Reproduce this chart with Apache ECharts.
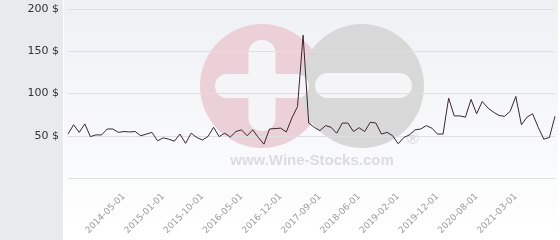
<!DOCTYPE html>
<html><head><meta charset="utf-8">
<script src="https://cdn.jsdelivr.net/npm/echarts@6/dist/echarts.min.js"></script>
<style>html,body{margin:0;padding:0;background:#fff}#c{width:560px;height:240px}</style>
</head><body><div id="c"></div>
<script>
const categories = [
 '2013-07-01','2013-08-01','2013-09-01','2013-10-01','2013-11-01','2013-12-01','2014-01-01','2014-02-01','2014-03-01','2014-04-01',
 '2014-05-01','2014-06-01','2014-07-01','2014-08-01','2014-09-01','2014-10-01','2014-12-01','2015-01-01','2015-02-01','2015-03-01',
 '2015-05-01','2015-06-01','2015-07-01','2015-09-01','2015-10-01','2015-11-01','2015-12-01','2016-01-01','2016-02-01','2016-03-01',
 '2016-04-01','2016-05-01','2016-06-01','2016-07-01','2016-08-01','2016-09-01','2016-10-01','2016-11-01','2016-12-01','2017-01-01',
 '2017-02-01','2017-03-01','2017-05-01','2017-06-01','2017-08-01','2017-09-01','2017-10-01','2017-11-01','2018-01-01','2018-02-01',
 '2018-03-01','2018-05-01','2018-06-01','2018-07-01','2018-08-01','2018-09-01','2018-10-01','2018-11-01','2019-01-01','2019-02-01',
 '2019-03-01','2019-05-01','2019-06-01','2019-08-01','2019-09-01','2019-11-01','2019-12-01','2020-01-01','2020-02-01','2020-03-01',
 '2020-04-01','2020-05-01','2020-07-01','2020-08-01','2020-09-01','2020-10-01','2020-11-01','2020-12-01','2021-01-01','2021-02-01',
 '2021-03-01','2021-04-01','2021-05-01','2021-06-01','2021-07-01','2021-08-01','2021-09-01','2021-10-01'
];
const prices = [
 52, 63, 54, 64, 49, 51, 51, 58, 58, 54,
 55, 54.5, 55, 50, 52, 54, 44, 47.5, 46, 43.5,
 52, 41, 53, 48, 45, 49, 60, 49, 53, 48.5,
 55, 57, 50, 57, 48, 40, 58, 58.5, 59, 54.5,
 71, 84.5, 169, 65, 60, 56, 62, 60, 53, 65,
 65, 55, 59.5, 55, 66, 65, 52, 54, 50, 40.5,
 48, 51, 57, 58, 62, 59, 52, 52, 94.5, 73.5,
 73.5, 72, 93, 76, 90.5, 83, 78, 74, 73, 79,
 96.5, 63, 72, 76, 60, 46, 48, 73
];
const xTickLabels = ['2014-05-01','2015-01-01','2015-10-01','2016-05-01','2016-12-01','2017-09-01','2018-06-01','2019-02-01','2019-12-01','2020-08-01','2021-03-01'];
const yTicks = [0, 50, 100, 150, 200];
const currency = '$';

const chart = echarts.init(document.getElementById('c'), null, {renderer: 'canvas'});
chart.setOption({
  animation: false,
  backgroundColor: '#ffffff',
  grid: {left: 68, right: 5, top: 9, bottom: 62, containLabel: false, outerBoundsMode: 'none'},
  graphic: {
    elements: [
      {type: 'rect', z: -20, silent: true, shape: {x: 0, y: 0, width: 63, height: 240}, style: {fill: '#e7ebee'}},
      {type: 'rect', z: -20, silent: true, shape: {x: 64, y: 0, width: 494, height: 240},
        style: {fill: new echarts.graphic.LinearGradient(0, 0, 0, 1, [{offset: 0, color: '#eff0f4'}, {offset: 1, color: '#ffffff'}])}},
      {type: 'circle', z: -19, silent: true, shape: {cx: 262, cy: 86, r: 62}, style: {fill: '#ecd0d7'}},
      {type: 'circle', z: -18, silent: true, shape: {cx: 362, cy: 86, r: 62}, style: {fill: '#d8d8d9'}},
      {type: 'rect', z: -17, silent: true, shape: {x: 248.5, y: 40, width: 27, height: 91, r: 13}, style: {fill: '#f5f5f8'}},
      {type: 'rect', z: -17, silent: true, shape: {x: 215, y: 74, width: 94, height: 24, r: 12}, style: {fill: '#f5f5f8'}},
      {type: 'rect', z: -17, silent: true, shape: {x: 315, y: 73, width: 97, height: 25, r: 12.5}, style: {fill: '#f5f5f8'}},
      {type: 'text', z: -16, silent: true, style: {x: 312, y: 160.5, text: 'www.Wine-Stocks.com', font: 'bold 15px "Liberation Sans", Arial, sans-serif', fill: '#dcdcde', textAlign: 'center', textVerticalAlign: 'middle'}},
      {type: 'text', z: -16, silent: true, style: {x: 413, y: 140, text: '®', font: '16px "Liberation Sans", Arial, sans-serif', fill: '#d6d6d8', textAlign: 'center', textVerticalAlign: 'middle'}}
    ]
  },
  xAxis: {
    type: 'category',
    data: categories,
    boundaryGap: false,
    axisLine: {show: false},
    axisTick: {show: false},
    splitLine: {show: false},
    axisLabel: {
      rotate: 45,
      interval: (i, v) => xTickLabels.includes(v),
      fontSize: 9,
      fontFamily: 'DejaVu Sans',
      color: '#9a9a9a',
      margin: 17
    }
  },
  yAxis: {
    type: 'value',
    min: yTicks[0],
    max: yTicks[yTicks.length - 1],
    interval: yTicks[1] - yTicks[0],
    axisLine: {show: false},
    axisTick: {show: false},
    splitLine: {show: true, lineStyle: {color: '#dedfe1', width: 1}},
    axisLabel: {
      formatter: v => (v === 0 ? '' : v + ' ' + currency),
      fontSize: 11,
      fontFamily: 'DejaVu Sans',
      color: '#333333',
      margin: 9
    }
  },
  series: [{
    type: 'line',
    data: prices,
    symbol: 'none',
    z: 5,
    lineStyle: {color: '#3a2630', width: 1}
  }]
});
</script>
</body></html>
